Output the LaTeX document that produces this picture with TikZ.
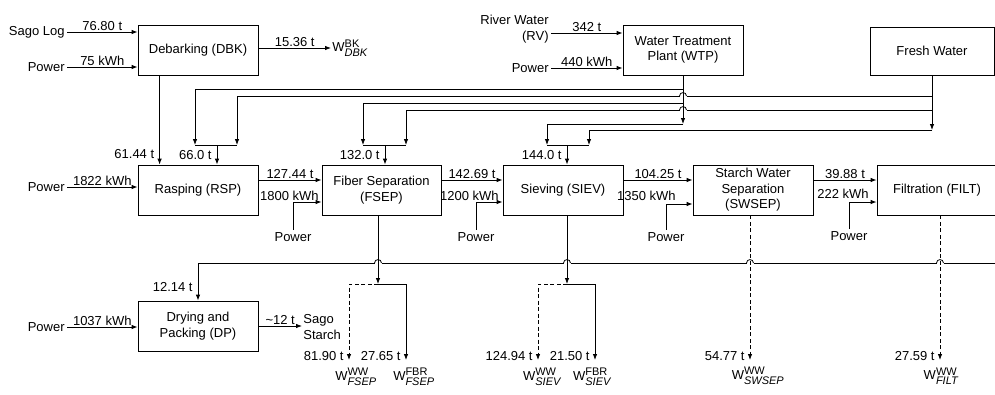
\documentclass[tikz,border=0pt]{standalone}
\usepackage{amsmath}
\usepackage{fontspec}
\setmainfont{Liberation Sans}
\usetikzlibrary{arrows.meta,calc}

% waste stream label
\newcommand{\wout}[2]{W$^{\text{\fontsize{11}{11}\selectfont #1}}_{\text{\fontsize{11}{11}\selectfont\itshape #2}}$}

\begin{document}
\begin{tikzpicture}[x=1pt, y=-1pt,
    font=\fontsize{13}{15.5}\selectfont,
    line width=0.8pt,
    unit/.style={draw, minimum width=120pt, minimum height=50pt, align=center, inner sep=1pt},
    src/.style={inner sep=2pt},
    val/.style={inner sep=1pt},
    flow/.style={-{Latex[length=6pt,width=4.5pt]}},
    wwflow/.style={flow, dash pattern=on 4pt off 2.5pt}]
  \useasboundingbox (0,0) rectangle (995,394);
  \clip (0,0) rectangle (995,394);

  % Units
  \node[unit] (dbk) at (198,50) {Debarking (DBK)};
  \node[unit] (wtp) at (683,50) {Water Treatment\\Plant (WTP)};
  \node[unit, minimum width=124pt, minimum height=48pt] (fw) at (932,51) {Fresh Water};
  \node[unit] (rsp) at (198,190) {Rasping (RSP)};
  \node[unit, minimum width=119pt] (fsep) at (381.5,190) {Fiber Separation\\(FSEP)};
  \node[unit] (siev) at (563,190) {Sieving (SIEV)};
  \node[unit] (swsep) at (753,190) {Starch Water\\Separation\\(SWSEP)};
  \node[unit] (filt) at (937,190) {Filtration (FILT)};
  \node[unit] (dp) at (198,326) {Drying and\\Packing (DP)};

  % Feeds on the left
  \node[src, anchor=east] (sago) at (67,32) {Sago Log};
  \node[src, anchor=east] (pdbk) at (67,67) {Power};
  \node[src, anchor=east] (prsp) at (67,187) {Power};
  \node[src, anchor=east] (pdp) at (67,327) {Power};
  \node[src, anchor=east, align=right] (rv) at (551,29) {River Water\\(RV)};
  \node[src, anchor=east] (pwtp) at (551,68) {Power};
  \coordinate (rvout) at ($(rv.east)+(0,4)$);

  \draw[flow] (sago) -- node[above, val] (q1) {76.80 t} (sago -| dbk.west);
  \draw[flow] (pdbk) -- node[above, val] (q2) {75 kWh} (pdbk -| dbk.west);
  \draw[flow] (prsp) -- node[above, val] (q3) {1822 kWh} (prsp -| rsp.west);
  \draw[flow] (pdp) -- node[above, val] (q4) {1037 kWh} (pdp -| dp.west);
  \draw[flow] (rvout) -- node[above, val] (q5) {342 t} (rvout -| wtp.west);
  \draw[flow] (pwtp) -- node[above, val] (q6) {440 kWh} (pwtp -| wtp.west);

  % Bark
  \node[val, anchor=west] (wdbk) at (331,48) {\wout{BK}{DBK}};
  \draw[flow] (dbk.east |- wdbk) -- node[above, val] (q7) {15.36 t} (wdbk);

  % Water headers
  \coordinate (rspA) at (195,145);  \coordinate (rspB) at (237,145);  \coordinate (rspM) at (217,145);
  \coordinate (fsepA) at (363,145); \coordinate (fsepB) at (406,145); \coordinate (fsepM) at (385,145);
  \coordinate (sievA) at (547,145); \coordinate (sievB) at (589,145); \coordinate (sievM) at (567,145);

  \draw[flow] (wtp.south |- 0,89) -| (rspA);
  \draw[flow] (fw.south |- 0,96) -| (rspB);
  \draw[flow] (wtp.south |- 0,103) -| (fsepA);
  \draw[flow] (fw.south |- 0,110) -| (fsepB);
  \draw[flow] (wtp.south |- 0,124) -| (sievA);
  \draw[flow] (fw.south |- 0,130) -| (sievB);

  % Recycled water back to drying
  \coordinate (ret) at (1000,263);
  \draw[flow] (ret) -| (dp.north);
  \node[val, anchor=base east] (q8) at ($(dp.north)+(-4,-9)$) {12.14 t};

  % hops
  \foreach \hx/\hy in {683/96, 683/110, 378/263, 567/263, 750/263, 940/263} {
    \fill[white] (\hx-3.5,\hy-1.2) rectangle (\hx+3.5,\hy+1.2);
    \draw (\hx-3.5,\hy) .. controls (\hx-3.5,\hy-4.5) and (\hx+3.5,\hy-4.5) .. (\hx+3.5,\hy);
  }

  \draw[flow] (wtp) -- (wtp.south |- 0,124);
  \draw[flow] (fw) -- (fw.south |- 0,130);

  \draw (rspA) -- (rspB);   \draw[flow] (rspM) -- (rspM |- rsp.north);
  \draw (fsepA) -- (fsepB); \draw[flow] (fsepM) -- (fsepM |- fsep.north);
  \draw (sievA) -- (sievB); \draw[flow] (sievM) -- (sievM |- siev.north);
  \node[val, anchor=base east] (q9) at ($(rspM)+(-4,14)$) {66.0 t};
  \node[val, anchor=base east] (q10) at ($(fsepM)+(-4,14)$) {132.0 t};
  \node[val, anchor=base east] (q11) at ($(sievM)+(-4,14)$) {144.0 t};

  \draw[flow] ($(dbk.south west)+(22,0)$) -- ($(rsp.north west)+(22,0)$);
  \node[val, anchor=base east] (q12) at ($(rsp.north west)+(18,-6)$) {61.44 t};

  % Main line
  \draw[flow] ($(rsp.east)+(0,-10)$) -- node[above, val] (q13) {127.44 t} ($(fsep.west)+(0,-10)$);
  \draw[flow] ($(fsep.east)+(0,-10)$) -- node[above, val] (q14) {142.69 t} ($(siev.west)+(0,-10)$);
  \draw[flow] ($(siev.east)+(0,-10)$) -- node[above, val] (q15) {104.25 t} ($(swsep.west)+(0,-10)$);
  \draw[flow] ($(swsep.east)+(0,-10)$) -- node[above, val] (q16) {39.88 t} ($(filt.west)+(0,-10)$);

  % Power to the units
  \node[src] (pfsep) at (293,237) {Power};
  \node[src] (psiev) at (476,237) {Power};
  \node[src] (pswsep) at (666,237) {Power};
  \node[src] (pfilt) at (849,236) {Power};
  \draw[flow] (pfsep) |- ($(fsep.west)+(0,12)$);
  \draw[flow] (psiev) |- ($(siev.west)+(0,12)$);
  \draw[flow] (pswsep) |- ($(swsep.west)+(0,14)$);
  \draw[flow] (pfilt) |- ($(filt.west)+(0,12)$);
  \node[val, anchor=east] (q17) at (320,196) {1800 kWh};
  \node[val, anchor=east] (q18) at (500,196) {1200 kWh};
  \node[val, anchor=east] (q19) at (677,196) {1350 kWh};
  \node[val, anchor=east] (q20) at (870,194) {222 kWh};

  % Product
  \node[val, anchor=west, align=left] (starch) at (302,327) {Sago\\Starch};
  \draw[flow] (dp.east) -- node[above, val] (q21) {\textasciitilde12 t} (starch.west |- dp.east);

  % Waste streams
  \coordinate (fsepsplit) at (378,284);
  \coordinate (fsepww) at (349,360);
  \coordinate (fsepfbr) at (406,360);
  \coordinate (sievsplit) at (567,284);
  \coordinate (sievww) at (538,360);
  \coordinate (sievfbr) at (595,360);
  \coordinate (swsepww) at (750,360);
  \coordinate (filtww) at (940,360);

  \draw[flow] (fsepsplit |- fsep.south) -- (fsepsplit);
  \draw[wwflow] (fsepsplit) -| (fsepww);
  \draw[flow] (fsepsplit) -| (fsepfbr);
  \draw[flow] (sievsplit |- siev.south) -- (sievsplit);
  \draw[wwflow] (sievsplit) -| (sievww);
  \draw[flow] (sievsplit) -| (sievfbr);
  \draw[wwflow] (swsepww |- swsep.south) -- (swsepww);
  \draw[wwflow] (filtww |- filt.south) -- (filtww);

  \node[val, anchor=base east] (q22) at ($(fsepww)+(-4,0)$) {81.90 t};
  \node[val, anchor=base east] (q23) at ($(fsepfbr)+(-4,0)$) {27.65 t};
  \node[val, anchor=base east] (q24) at ($(sievww)+(-4,0)$) {124.94 t};
  \node[val, anchor=base east] (q25) at ($(sievfbr)+(-4,0)$) {21.50 t};
  \node[val, anchor=base east] (q26) at ($(swsepww)+(-4,0)$) {54.77 t};
  \node[val, anchor=base east] (q27) at ($(filtww)+(-4,0)$) {27.59 t};

  \node[val] (wfsepww) at (356,377) {\wout{WW}{FSEP}};
  \node[val] (wfsepfbr) at (414,377) {\wout{FBR}{FSEP}};
  \node[val] (wsievww) at (542,377) {\wout{WW}{SIEV}};
  \node[val] (wsievfbr) at (592,377) {\wout{FBR}{SIEV}};
  \node[val] (wswsepww) at (758,376) {\wout{WW}{SWSEP}};
  \node[val] (wfiltww) at (941,376) {\wout{WW}{FILT}};
\end{tikzpicture}
\end{document}
